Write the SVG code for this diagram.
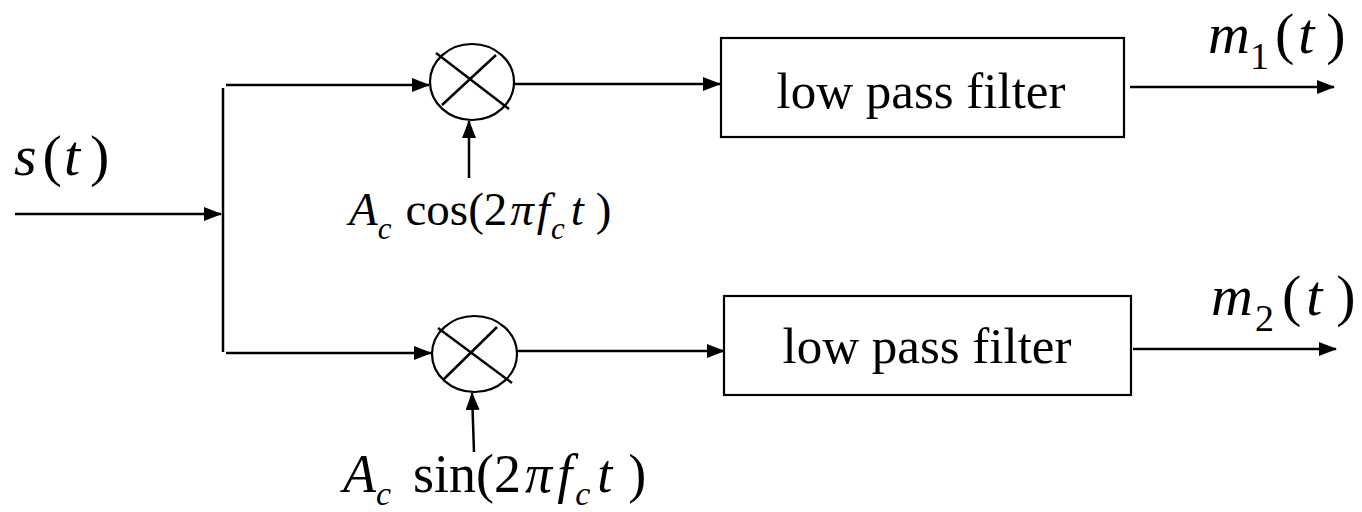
<svg xmlns="http://www.w3.org/2000/svg" width="1362" height="512" viewBox="0 0 1362 512">
<style>
.ln{stroke:#000;stroke-width:2.5;fill:none}
.ar{stroke:#000;stroke-width:2.5;fill:none;marker-end:url(#ah)}
.sh{stroke:#000;stroke-width:2.2;fill:#fff}
.t{font-family:'Liberation Serif',Tinos,'Noto Serif','DejaVu Serif','Times New Roman',Times,serif;fill:#000}
.i{font-style:italic}
</style>
<defs>
<marker id="ah" markerUnits="userSpaceOnUse" markerWidth="18" markerHeight="14" refX="17" refY="7" orient="auto">
<path d="M0,0 L18,7 L0,14 z" fill="#000"/>
</marker>
</defs>
<rect width="1362" height="512" fill="#fff"/>
<g id="connectors">
<line class="ar" x1="15" y1="214" x2="221" y2="214"/>
<line class="ln" x1="223" y1="88" x2="223" y2="352"/>
<line class="ar" x1="226" y1="85" x2="429" y2="85"/>
<line class="ar" x1="226" y1="353" x2="431" y2="353"/>
<line class="ar" x1="514" y1="84" x2="720" y2="84"/>
<line class="ar" x1="517" y1="351" x2="724" y2="351"/>
<line class="ar" x1="469" y1="178" x2="469" y2="121"/>
<line class="ar" x1="474" y1="452" x2="472" y2="393"/>
<line class="ar" x1="1130" y1="87" x2="1334" y2="87"/>
<line class="ar" x1="1133" y1="349" x2="1336" y2="349"/>
</g>
<g id="mult1">
<ellipse class="sh" cx="472" cy="82" rx="42" ry="38"/>
<line class="ln" x1="436" y1="53" x2="509" y2="109" stroke-width="2"/>
<line class="ln" x1="496" y1="55" x2="442" y2="105" stroke-width="2"/>
</g>
<g id="mult2">
<ellipse class="sh" cx="474.5" cy="354" rx="42.5" ry="38"/>
<line class="ln" x1="438" y1="328" x2="512" y2="383" stroke-width="2"/>
<line class="ln" x1="497" y1="327" x2="444" y2="379" stroke-width="2"/>
</g>
<g id="lpf1">
<rect class="sh" x="721" y="38" width="403" height="99"/>
<text class="t" x="921" y="108" font-size="51" text-anchor="middle">low pass filter</text>
</g>
<g id="lpf2">
<rect class="sh" x="724" y="296" width="407" height="99"/>
<text class="t" x="927" y="363" font-size="51" text-anchor="middle">low pass filter</text>
</g>
<g id="label-s">
<text class="t" font-size="58" x="14" y="175"><tspan class="i">s</tspan><tspan dx="6">(</tspan><tspan class="i" dx="2">t</tspan><tspan dx="10">)</tspan></text>
</g>
<g id="label-cos">
<text class="t" font-size="47" x="349" y="225"><tspan class="i">A</tspan><tspan class="i" dy="14" font-size="31">c</tspan><tspan dy="-14" dx="14">cos(2</tspan><tspan class="i" dx="3">π</tspan><tspan class="i" dx="3">f</tspan><tspan class="i" dy="14" dx="1" font-size="31">c</tspan><tspan class="i" dy="-14" dx="6">t</tspan><tspan dx="12">)</tspan></text>
</g>
<g id="label-sin">
<text class="t" font-size="54" x="343" y="492"><tspan class="i">A</tspan><tspan class="i" dy="13" font-size="34">c</tspan><tspan dy="-13" dx="22">sin(2</tspan><tspan class="i" dx="4">π</tspan><tspan class="i" dx="5">f</tspan><tspan class="i" dy="13" dx="3" font-size="34">c</tspan><tspan class="i" dy="-13" dx="7">t</tspan><tspan dx="16">)</tspan></text>
</g>
<g id="label-m1">
<text class="t" font-size="58" x="1208" y="53"><tspan class="i">m</tspan><tspan dy="16" font-size="38">1</tspan><tspan dy="-16" dx="6">(</tspan><tspan class="i" dx="4">t</tspan><tspan dx="12">)</tspan></text>
</g>
<g id="label-m2">
<text class="t" font-size="58" x="1211" y="315"><tspan class="i">m</tspan><tspan dy="16" dx="2" font-size="38">2</tspan><tspan dy="-16" dx="8">(</tspan><tspan class="i" dx="5">t</tspan><tspan dx="14">)</tspan></text>
</g>
</svg>
